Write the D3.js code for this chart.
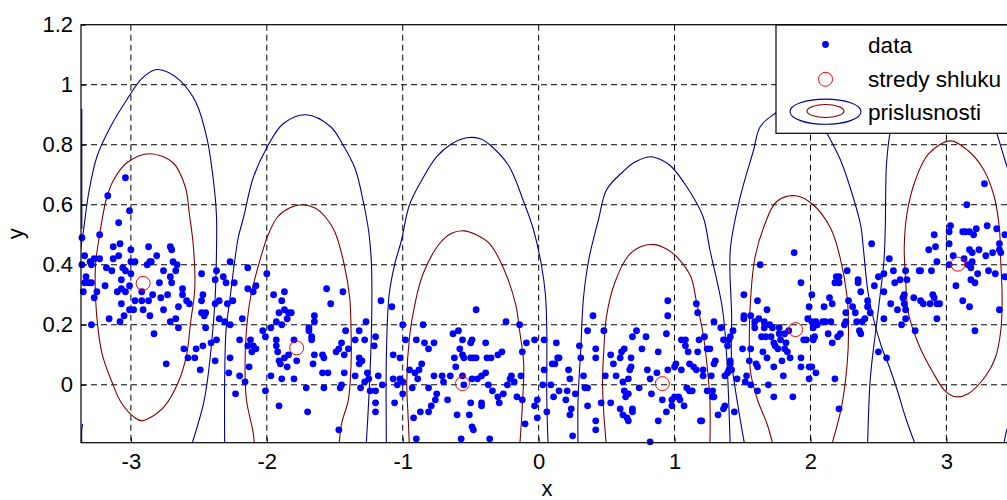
<!DOCTYPE html>
<html>
<head>
<meta charset="utf-8">
<script src="https://cdn.jsdelivr.net/npm/d3@7/dist/d3.min.js"></script>
<style>
  body { margin: 0; background: #fff; }
  text { font-family: "Liberation Sans", Arial, sans-serif; }
</style>
</head>
<body>
<svg id="chart" width="1007" height="500"></svg>
<script>
/**
  *   Fuzzy clustering plot: data, cluster centres and membership contours.
  **/

// axis ticks
var xTicks = [-3, -2, -1, 0, 1, 2, 3];
var yTicks = [0, 0.2, 0.4, 0.6, 0.8, 1, 1.2];

// legend labels
var legendLabels = ["data", "stredy shluku", "prislusnosti"];

// cluster centres (stredy shluku)
var centerX = [-2.91, -1.78, -0.56, 0.91, 1.89, 3.085];
var centerY = [0.338, 0.123, 0.004, 0.004, 0.184, 0.402];

// data points [x, y]
var dataPts = [
  [-3.04,0.69],[-3.17,0.63],[-3.01,0.58],[-3.09,0.54],[-3.23,0.50],[-3.36,0.49],[-3.13,0.46],[-3.08,0.47],
  [-3.00,0.45],[-2.87,0.46],[-2.71,0.46],[-2.70,0.45],[-2.81,0.43],[-3.09,0.43],[-3.13,0.42],[-3.34,0.43],
  [-3.30,0.41],[-3.27,0.42],[-3.23,0.42],[-3.36,0.40],[-3.29,0.40],[-3.00,0.41],[-2.97,0.41],[-2.86,0.41],
  [-2.88,0.40],[-2.85,0.41],[-2.69,0.41],[-2.66,0.40],[-3.18,0.39],[-3.14,0.38],[-3.06,0.39],[-3.04,0.38],
  [-3.00,0.37],[-2.76,0.38],[-2.67,0.38],[-2.71,0.36],[-2.48,0.37],[-3.33,0.36],[-3.31,0.34],[-3.34,0.34],
  [-3.29,0.34],[-3.07,0.35],[-3.19,0.33],[-3.01,0.33],[-2.79,0.34],[-2.70,0.34],[-2.62,0.32],[-3.10,0.31],
  [-3.07,0.32],[-3.04,0.31],[-2.92,0.31],[-2.84,0.30],[-3.35,0.31],[-3.25,0.31],[-3.27,0.29],[-2.73,0.30],
  [-2.62,0.30],[-2.59,0.28],[-2.57,0.27],[-2.97,0.28],[-2.92,0.28],[-2.87,0.28],[-2.78,0.29],[-2.47,0.30],
  [-2.48,0.28],[-2.37,0.38],[-2.32,0.36],[-2.38,0.35],[-2.30,0.34],[-2.24,0.34],[-3.07,0.27],[-2.65,0.26],
  [-3.01,0.25],[-2.98,0.25],[-2.91,0.25],[-2.76,0.25],[-2.38,0.27],[-2.35,0.28],[-2.29,0.27],[-2.25,0.28],
  [-2.48,0.24],[-2.45,0.24],[-2.46,0.23],[-3.05,0.23],[-2.86,0.23],[-2.67,0.22],[-3.16,0.22],[-3.08,0.21],
  [-2.71,0.21],[-3.29,0.20],[-2.65,0.19],[-2.45,0.19],[-2.35,0.22],[-2.31,0.21],[-2.27,0.20],[-2.83,0.17],
  [-2.41,0.14],[-2.47,0.13],[-2.52,0.12],[-2.61,0.12],[-2.58,0.09],[-2.53,0.09],[-2.37,0.15],[-2.74,0.07],
  [-2.49,0.05],[-2.38,0.08],[-2.27,0.09],[-2.28,0.04],[-2.27,0.41],
  [-2.14,0.39],[-2.00,0.37],[-2.08,0.33],[-2.14,0.32],[-2.10,0.31],[-1.87,0.31],[-1.56,0.32],[-1.44,0.31],
  [-1.95,0.30],[-1.89,0.28],[-1.53,0.27],[-1.16,0.28],[-1.87,0.25],[-1.91,0.24],[-1.84,0.24],[-1.82,0.24],
  [-1.85,0.22],[-1.65,0.23],[-1.65,0.21],[-2.18,0.22],[-1.93,0.21],[-1.97,0.19],[-1.89,0.20],[-1.27,0.21],
  [-2.03,0.18],[-2.01,0.16],[-1.69,0.19],[-1.69,0.18],[-1.67,0.16],[-1.67,0.15],[-1.42,0.18],[-1.32,0.18],
  [-2.20,0.15],[-2.12,0.15],[-1.93,0.15],[-1.80,0.15],[-1.45,0.14],[-1.35,0.15],[-1.28,0.15],[-1.20,0.16],
  [-1.21,0.13],[-2.14,0.13],[-2.10,0.13],[-2.11,0.11],[-2.08,0.12],[-1.93,0.13],[-1.40,0.12],[-1.47,0.12],
  [-1.49,0.11],[-1.92,0.11],[-1.65,0.10],[-1.59,0.10],[-1.58,0.09],[-1.43,0.10],[-1.91,0.08],[-1.87,0.09],
  [-1.84,0.10],[-1.90,0.07],[-1.85,0.06],[-1.78,0.08],[-1.66,0.07],[-1.32,0.09],[-1.30,0.08],[-1.32,0.07],
  [-2.13,0.06],[-1.97,0.03],[-1.89,0.02],[-1.80,0.02],[-1.71,-0.01],[-1.59,0.04],[-1.55,0.04],[-1.43,0.04],
  [-1.35,0.03],[-1.26,0.04],[-1.25,0.02],[-1.18,0.03],[-1.28,0.01],[-2.20,0.03],[-2.16,0.01],[-2.23,-0.03],
  [-2.01,-0.02],[-1.58,-0.01],[-1.45,0.00],[-1.46,-0.01],[-1.31,-0.01],[-1.24,-0.02],[-1.20,-0.02],[-1.15,0.00],
  [-1.91,-0.07],[-1.70,-0.09],[-1.20,-0.06],[-1.20,-0.09],[-1.47,-0.15],
  [-1.08,0.26],[-0.46,0.25],[-0.24,0.21],[-1.00,0.20],[-0.85,0.20],[-0.63,0.17],[-0.59,0.18],[-0.98,0.15],
  [-0.90,0.15],[-0.84,0.14],[-0.77,0.14],[-0.81,0.12],[-0.56,0.15],[-0.50,0.14],[-0.49,0.15],[-0.39,0.14],
  [-0.14,0.20],[-0.09,0.14],[-0.03,0.15],[0.04,0.15],[-0.58,0.12],[-0.12,0.11],[-0.27,0.11],[-0.30,0.10],
  [-0.35,0.09],[-0.38,0.09],[-1.07,0.10],[-1.02,0.09],[-0.62,0.09],[-0.56,0.10],[-0.55,0.09],[-0.50,0.09],
  [-0.48,0.09],[-0.46,0.09],[-0.86,0.07],[-0.88,0.05],[-0.95,0.05],[-0.91,0.04],[-0.89,0.02],[-0.61,0.06],
  [-0.77,0.03],[-0.71,0.03],[-0.70,0.01],[-0.65,0.03],[-0.56,0.03],[-0.49,0.02],[-0.45,0.02],[-0.42,0.03],
  [-0.39,0.04],[-0.20,0.03],[-0.13,0.03],[-0.18,0.01],[-0.21,0.02],[-0.23,0.00],[0.04,0.05],[-1.07,0.02],
  [-1.02,0.02],[-1.00,0.01],[-1.04,0.00],[-0.93,-0.01],[-0.55,0.00],[-0.81,-0.01],[-0.37,0.00],[-0.34,-0.02],
  [-0.75,-0.03],[-0.76,-0.05],[-0.79,-0.07],[-0.67,-0.05],[-0.50,-0.06],[-0.42,-0.06],[-0.42,-0.07],[-0.30,-0.04],
  [-0.26,-0.03],[-0.29,-0.06],[-0.16,-0.04],[-0.12,-0.05],[-1.00,-0.03],[-1.06,-0.06],[-0.01,-0.05],[-0.03,-0.07],
  [0.03,0.00],[-0.81,-0.09],[-0.87,-0.09],[-0.60,-0.10],[-0.51,-0.10],[-0.92,-0.11],[-0.49,-0.14],[-0.48,-0.15],
  [-0.10,-0.13],[-0.01,-0.11],[-0.90,-0.18],[-0.57,-0.18],[-0.36,-0.18],
  [0.95,0.28],[0.95,0.23],[1.16,0.27],[1.17,0.24],[0.40,0.23],[0.36,0.18],[0.48,0.18],[0.72,0.18],
  [0.69,0.16],[0.79,0.16],[0.94,0.17],[1.05,0.15],[1.08,0.15],[1.18,0.15],[0.13,0.14],[0.30,0.13],
  [0.42,0.12],[0.42,0.09],[0.31,0.09],[0.63,0.12],[0.61,0.11],[0.60,0.09],[0.53,0.10],[0.68,0.09],
  [0.76,0.12],[0.88,0.11],[1.08,0.13],[1.10,0.11],[1.17,0.11],[0.15,0.09],[0.14,0.09],[0.10,0.07],
  [0.12,0.07],[0.55,0.07],[0.68,0.06],[0.67,0.05],[0.66,0.02],[0.57,0.03],[0.49,0.03],[0.80,0.05],
  [0.87,0.04],[0.82,0.02],[0.95,0.05],[1.01,0.07],[1.00,0.06],[1.05,0.05],[1.11,0.07],[1.14,0.06],
  [1.16,0.05],[0.22,0.05],[0.23,0.02],[0.33,0.03],[0.62,0.01],[0.63,-0.02],[0.66,-0.03],[0.64,-0.04],
  [0.74,-0.01],[0.83,-0.03],[0.91,-0.05],[0.94,-0.09],[0.98,-0.05],[1.00,-0.04],[1.03,-0.04],[1.04,-0.05],
  [0.98,-0.07],[1.07,-0.07],[1.11,-0.02],[1.13,-0.02],[1.09,-0.01],[0.09,0.00],[0.15,-0.02],[0.11,-0.04],
  [0.20,-0.05],[0.21,-0.02],[0.24,-0.08],[0.23,-0.10],[0.27,-0.03],[0.34,-0.01],[0.36,-0.01],[0.36,-0.07],
  [0.46,-0.06],[0.53,-0.06],[0.60,-0.08],[0.62,-0.10],[0.69,-0.08],[0.69,-0.09],[0.65,-0.11],[0.66,-0.12],
  [0.42,-0.12],[0.42,-0.15],[0.88,-0.12],[1.19,-0.12],[0.25,-0.17],[0.82,-0.19],[0.06,-0.09],
  [1.88,0.44],[1.63,0.40],[1.93,0.34],[1.51,0.30],[1.61,0.28],[1.68,0.25],[2.01,0.30],[1.99,0.26],
  [1.98,0.22],[2.14,0.29],[2.16,0.27],[2.10,0.26],[2.19,0.36],[2.21,0.36],[2.27,0.38],[2.18,0.34],
  [2.21,0.34],[2.28,0.28],[2.26,0.24],[2.31,0.26],[1.29,0.21],[1.34,0.19],[1.43,0.18],[1.51,0.23],
  [1.51,0.22],[1.56,0.23],[1.59,0.21],[1.62,0.22],[1.59,0.19],[1.66,0.21],[1.70,0.20],[1.66,0.19],
  [1.72,0.19],[1.64,0.16],[1.67,0.16],[1.71,0.16],[1.77,0.19],[1.77,0.17],[1.81,0.17],[1.84,0.18],
  [2.01,0.21],[2.04,0.21],[2.05,0.20],[2.02,0.19],[2.03,0.16],[2.02,0.15],[2.09,0.21],[2.11,0.21],
  [2.15,0.21],[2.13,0.17],[2.16,0.14],[2.20,0.16],[2.22,0.17],[2.26,0.21],[2.25,0.20],[1.73,0.14],
  [1.74,0.13],[1.78,0.15],[1.82,0.14],[1.81,0.12],[1.83,0.11],[1.76,0.12],[1.95,0.15],[1.97,0.15],
  [1.22,0.16],[1.24,0.12],[1.26,0.12],[1.36,0.15],[1.40,0.15],[1.41,0.16],[1.39,0.13],[1.50,0.12],
  [1.56,0.12],[1.65,0.11],[1.68,0.09],[1.60,0.07],[1.61,0.06],[1.73,0.06],[1.79,0.08],[1.85,0.09],
  [1.93,0.09],[1.93,0.06],[1.99,0.06],[2.01,0.06],[2.04,0.04],[1.99,0.02],[2.18,0.02],[1.30,0.08],
  [1.29,0.07],[1.21,0.05],[1.21,0.03],[1.27,0.03],[1.41,0.08],[1.41,0.07],[1.40,0.05],[1.42,0.05],
  [1.39,0.04],[1.37,0.03],[1.46,0.02],[1.55,0.08],[1.53,0.03],[1.52,0.01],[1.56,0.00],[1.61,-0.02],
  [1.80,0.03],[1.69,0.00],[1.73,-0.04],[1.87,-0.04],[1.24,-0.02],[1.28,-0.02],[1.29,-0.04],[1.28,-0.04],
  [1.37,-0.07],[1.36,-0.08],[1.44,-0.09],[1.32,-0.10],[1.20,-0.12],[2.21,-0.08],
  [3.28,0.67],[3.15,0.60],[3.03,0.53],[3.02,0.51],[3.12,0.51],[3.14,0.51],[3.17,0.51],[3.20,0.50],
  [3.22,0.52],[3.30,0.53],[3.37,0.52],[3.43,0.50],[2.91,0.50],[2.87,0.45],[2.92,0.46],[3.02,0.47],
  [3.17,0.45],[3.19,0.44],[3.24,0.45],[3.29,0.43],[3.34,0.44],[3.39,0.47],[3.39,0.45],[3.40,0.44],
  [2.45,0.47],[2.58,0.42],[2.61,0.38],[2.93,0.41],[2.89,0.38],[3.05,0.43],[3.13,0.42],[3.02,0.40],
  [3.16,0.40],[3.19,0.41],[3.18,0.39],[2.70,0.38],[2.71,0.35],[2.80,0.38],[2.81,0.38],[2.50,0.36],
  [2.54,0.37],[2.47,0.33],[2.62,0.34],[2.66,0.35],[3.18,0.35],[3.21,0.34],[3.23,0.37],[3.31,0.38],
  [3.36,0.37],[3.43,0.36],[3.07,0.33],[2.35,0.35],[2.35,0.34],[2.37,0.31],[2.54,0.31],[2.69,0.30],
  [2.68,0.29],[2.76,0.29],[2.81,0.28],[2.83,0.27],[2.88,0.27],[2.90,0.30],[2.91,0.29],[2.93,0.27],
  [2.95,0.27],[3.12,0.28],[3.17,0.26],[3.39,0.25],[2.42,0.28],[2.42,0.26],[2.44,0.24],[2.59,0.27],
  [2.64,0.25],[2.69,0.27],[2.70,0.25],[2.93,0.22],[2.70,0.22],[2.67,0.20],[2.77,0.18],[2.40,0.22],
  [2.38,0.21],[2.34,0.21],[2.33,0.24],[2.36,0.18],[2.37,0.17],[2.54,0.22],[3.21,0.18],[2.50,0.11],
  [2.56,0.09]
];

// membership contours, outer level (blue), in data units
var blueContours = [
  [[-3.37,0.45],[-3.35,0.51],[-3.31,0.64],[-3.25,0.76],[-3.15,0.86],[-3.03,0.95],[-2.92,1.02],[-2.82,1.05],
   [-2.72,1.04],[-2.63,1.01],[-2.52,0.94],[-2.44,0.82],[-2.39,0.67],[-2.37,0.56],[-2.37,0.45],[-2.38,0.29],
   [-2.41,0.12],[-2.46,-0.05],[-2.56,-0.21]],
  [[-2.31,-0.21],[-2.31,0.01],[-2.30,0.18],[-2.27,0.29],[-2.24,0.40],[-2.21,0.49],[-2.17,0.56],[-2.10,0.69],
   [-2.00,0.79],[-1.88,0.87],[-1.71,0.90],[-1.53,0.86],[-1.44,0.80],[-1.35,0.72],[-1.29,0.61],[-1.25,0.51],
   [-1.23,0.40],[-1.23,0.18],[-1.25,-0.05],[-1.27,-0.21]],
  [[-1.12,-0.21],[-1.12,0.10],[-1.10,0.30],[-1.06,0.40],[-1.01,0.48],[-0.95,0.60],[-0.85,0.69],[-0.75,0.76],
   [-0.65,0.80],[-0.53,0.823],[-0.43,0.82],[-0.36,0.80],[-0.22,0.73],[-0.11,0.61],[-0.04,0.52],[0.02,0.40],
   [0.05,0.30],[0.06,0.18],[0.06,0.04],[0.06,-0.05],[0.07,-0.21]],
  [[0.29,-0.21],[0.29,-0.05],[0.31,0.12],[0.33,0.29],[0.37,0.42],[0.44,0.55],[0.50,0.65],[0.62,0.71],
   [0.70,0.74],[0.82,0.76],[0.90,0.75],[0.97,0.73],[1.09,0.66],[1.21,0.56],[1.26,0.45],[1.35,0.26],
   [1.38,0.12],[1.41,-0.21]],
  [[1.52,-0.21],[1.47,-0.08],[1.42,0.08],[1.42,0.23],[1.41,0.45],[1.48,0.62],[1.58,0.78],[1.63,0.86],
   [1.74,0.905],[1.90,0.95],[2.02,0.93],[2.12,0.84],[2.22,0.75],[2.29,0.66],[2.37,0.53],[2.39,0.45],
   [2.43,0.29],[2.52,0.13],[2.58,0.06],[2.64,-0.02],[2.70,-0.11],[2.78,-0.21]],
  [[2.42,-0.21],[2.44,0.02],[2.48,0.18],[2.51,0.29],[2.54,0.41],[2.55,0.52],[2.56,0.74],[2.59,0.85],
   [2.65,0.95],[2.80,1.02],[3.00,1.04],[3.20,1.00],[3.33,0.90],[3.37,0.84],[3.43,0.75],[3.50,0.65]],
  [[-3.361,0.92],[-3.361,0.52]],
  [[-3.361,-0.21],[-3.361,-0.15],[-3.355,-0.13]],
  [[3.42,-0.21],[3.445,-0.15],[3.48,-0.12]]
];

// membership contours, inner level (dark red)
var redContours = [
  [[-2.86,0.77],[-2.69,0.74],[-2.60,0.66],[-2.57,0.57],[-2.54,0.46],[-2.53,0.32],[-2.56,0.21],[-2.59,0.10],
   [-2.65,0.01],[-2.75,-0.07],[-2.86,-0.11],[-2.92,-0.12],[-2.97,-0.11],[-3.07,-0.06],[-3.14,0.01],[-3.21,0.10],
   [-3.24,0.18],[-3.26,0.29],[-3.26,0.40],[-3.23,0.50],[-3.18,0.62],[-3.13,0.68],[-3.03,0.74]],
  [[-2.09,-0.21],[-2.10,-0.16],[-2.15,-0.05],[-2.16,0.07],[-2.15,0.18],[-2.12,0.29],[-2.06,0.40],[-1.99,0.50],
   [-1.92,0.56],[-1.83,0.59],[-1.74,0.60],[-1.65,0.59],[-1.57,0.56],[-1.50,0.51],[-1.43,0.40],[-1.39,0.29],
   [-1.38,0.18],[-1.38,0.07],[-1.40,-0.05],[-1.45,-0.13],[-1.47,-0.21]],
  [[-0.95,-0.21],[-0.96,-0.11],[-0.97,0.01],[-0.95,0.16],[-0.91,0.27],[-0.85,0.37],[-0.73,0.47],[-0.64,0.505],
   [-0.55,0.513],[-0.46,0.50],[-0.36,0.47],[-0.26,0.39],[-0.17,0.27],[-0.14,0.18],[-0.11,0.07],[-0.12,-0.07],
   [-0.14,-0.21]],
  [[0.50,-0.21],[0.48,-0.10],[0.47,0.01],[0.48,0.12],[0.50,0.23],[0.56,0.34],[0.66,0.43],[0.75,0.46],
   [0.85,0.467],[0.95,0.45],[1.03,0.42],[1.12,0.36],[1.16,0.28],[1.21,0.17],[1.24,0.06],[1.26,-0.05],
   [1.26,-0.21]],
  [[1.73,-0.21],[1.68,-0.13],[1.61,-0.05],[1.56,0.04],[1.55,0.16],[1.56,0.29],[1.59,0.42],[1.66,0.53],
   [1.75,0.61],[1.89,0.63],[2.02,0.60],[2.15,0.52],[2.22,0.42],[2.27,0.29],[2.28,0.18],[2.27,0.07],
   [2.23,-0.07],[2.15,-0.21]],
  [[3.03,0.813],[3.16,0.78],[3.27,0.72],[3.35,0.63],[3.39,0.52],[3.40,0.41],[3.41,0.29],[3.40,0.18],
   [3.36,0.09],[3.29,0.03],[3.16,-0.03],[3.07,-0.04],[2.99,-0.02],[2.89,0.05],[2.80,0.13],[2.72,0.24],
   [2.70,0.35],[2.69,0.46],[2.71,0.57],[2.77,0.68],[2.87,0.77]]
];
var redClosed = [true, false, false, false, false, true];

var svg = d3.select("#chart");

// plot area
var plotL = 81, plotR = 1013, plotT = 24.7, plotB = 442.7;

var x = d3.scaleLinear().domain([-3.367, 3.49]).range([plotL, plotR]);
var y = d3.scaleLinear().domain([-0.193, 1.2]).range([plotB, plotT]);

svg.append("defs").append("clipPath")
    .attr("id", "plotclip")
  .append("rect")
    .attr("x", plotL).attr("y", plotT)
    .attr("width", plotR - plotL).attr("height", plotB - plotT);

// grid
var grid = svg.append("g").attr("class", "grid");
grid.selectAll(".vgrid")
    .data(xTicks)
  .enter().append("line")
    .attr("x1", function(d) { return x(d); })
    .attr("x2", function(d) { return x(d); })
    .attr("y1", plotT).attr("y2", plotB)
    .attr("stroke", "#000").attr("stroke-width", 1)
    .attr("stroke-dasharray", "6,4");
grid.selectAll(".hgrid")
    .data(yTicks.filter(function(d) { return d < 1.2; }))
  .enter().append("line")
    .attr("x1", plotL).attr("x2", plotR)
    .attr("y1", function(d) { return y(d); })
    .attr("y2", function(d) { return y(d); })
    .attr("stroke", "#000").attr("stroke-width", 1)
    .attr("stroke-dasharray", "6,4");

// contours
var line = d3.line()
    .x(function(d) { return x(d[0]); })
    .y(function(d) { return y(d[1]); })
    .curve(d3.curveCatmullRom.alpha(0.5));
var closedLine = d3.line()
    .x(function(d) { return x(d[0]); })
    .y(function(d) { return y(d[1]); })
    .curve(d3.curveCatmullRomClosed.alpha(0.5));

var cont = svg.append("g").attr("clip-path", "url(#plotclip)");
cont.selectAll(".blue")
    .data(blueContours)
  .enter().append("path")
    .attr("d", line)
    .attr("fill", "none")
    .attr("stroke", "#00008f")
    .attr("stroke-width", 1.1);
cont.selectAll(".red")
    .data(redContours)
  .enter().append("path")
    .attr("d", function(d, i) { return redClosed[i] ? closedLine(d) : line(d); })
    .attr("fill", "none")
    .attr("stroke", "#800000")
    .attr("stroke-width", 1.1);

// data points
svg.append("g").selectAll("circle")
    .data(dataPts)
  .enter().append("circle")
    .attr("cx", function(d) { return x(d[0]); })
    .attr("cy", function(d) { return y(d[1]); })
    .attr("r", 3.4)
    .attr("fill", "#0000ff");

// cluster centres
svg.append("g").selectAll("circle")
    .data(centerX)
  .enter().append("circle")
    .attr("cx", function(d) { return x(d); })
    .attr("cy", function(d, i) { return y(centerY[i]); })
    .attr("r", 7)
    .attr("fill", "none")
    .attr("stroke", "#ff0000")
    .attr("stroke-width", 1);

// axes
var xAxis = d3.axisBottom(x).tickValues(xTicks).tickSize(-5).tickPadding(11).tickFormat(d3.format("d"));
var yAxis = d3.axisLeft(y).tickValues(yTicks).tickSize(-5).tickPadding(8)
    .tickFormat(function(d) { return String(+d.toFixed(1)); });

var gx = svg.append("g").attr("transform", "translate(0," + plotB + ")").call(xAxis);
var gy = svg.append("g").attr("transform", "translate(" + plotL + ",0)").call(yAxis);
[gx, gy].forEach(function(g) {
  g.select(".domain").remove();
  g.selectAll("text").attr("font-size", 22).attr("fill", "#000")
    .style("font-family", "'Liberation Sans', Arial, sans-serif");
  g.selectAll("line").attr("stroke", "#000");
});
gx.selectAll("text").text(function(d) { return d < 0 ? "-" + Math.abs(d) : d; });

// box
svg.append("rect")
    .attr("x", plotL).attr("y", plotT)
    .attr("width", plotR - plotL).attr("height", plotB - plotT)
    .attr("fill", "none").attr("stroke", "#000").attr("stroke-width", 1.2);

// axis labels
svg.append("text")
    .attr("x", (plotL + plotR) / 2).attr("y", 496)
    .attr("text-anchor", "middle").attr("font-size", 22)
    .text("x");
svg.append("text")
    .attr("transform", "translate(23," + ((plotT + plotB) / 2) + ") rotate(-90)")
    .attr("text-anchor", "middle").attr("font-size", 22)
    .text("y");

// legend
var lg = svg.append("g").attr("transform", "translate(776,25)");
lg.append("rect")
    .attr("x", 0).attr("y", 0).attr("width", 260).attr("height", 108.3)
    .attr("fill", "#fff").attr("stroke", "#000").attr("stroke-width", 1.2);
lg.append("circle").attr("cx", 49.5).attr("cy", 19.5).attr("r", 3.4).attr("fill", "#0000ff");
lg.append("circle").attr("cx", 49.5).attr("cy", 54.3).attr("r", 7)
    .attr("fill", "none").attr("stroke", "#ff0000");
lg.append("ellipse").attr("cx", 49.5).attr("cy", 86.7).attr("rx", 35.5).attr("ry", 12.6)
    .attr("fill", "none").attr("stroke", "#00008f").attr("stroke-width", 1.1);
lg.append("ellipse").attr("cx", 49.5).attr("cy", 86).attr("rx", 18.5).attr("ry", 6.5)
    .attr("fill", "none").attr("stroke", "#800000").attr("stroke-width", 1.1);
lg.selectAll(".ltext")
    .data(legendLabels)
  .enter().append("text")
    .attr("x", 92)
    .attr("y", function(d, i) { return [28.3, 62.3, 95][i]; })
    .attr("font-size", 22.6)
    .text(function(d) { return d; });
</script>
</body>
</html>
